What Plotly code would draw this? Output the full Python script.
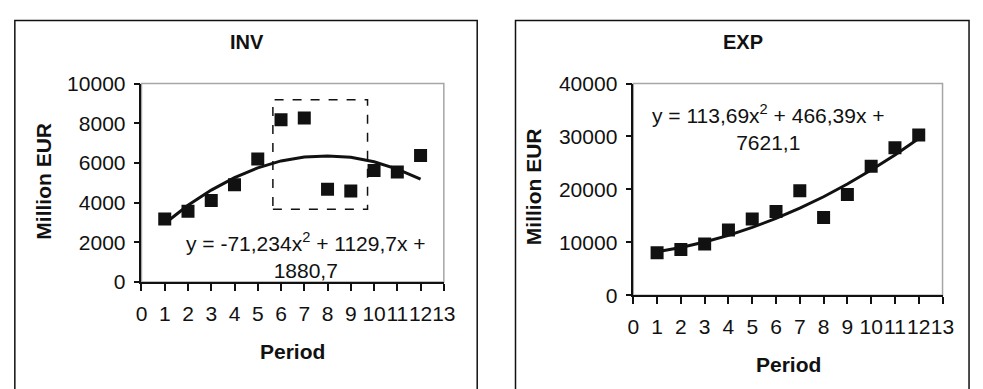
import plotly.graph_objects as go

periods = [1, 2, 3, 4, 5, 6, 7, 8, 9, 10, 11, 12]
inv_values = [3170, 3560, 4110, 4900, 6200, 8180, 8260, 4670, 4590, 5620, 5540, 6380]
inv_trend = [2950, 3870, 4630, 5260, 5750, 6100, 6300, 6350, 6280, 6060, 5690, 5180]
exp_values = [8000, 8650, 9660, 12330, 14400, 15820, 19730, 14700, 19020, 24360, 27850, 30280]
exp_trend = [8200, 9000, 10050, 11300, 12800, 14500, 16450, 18600, 21000, 23650, 26500, 29600]
x_ticks = list(range(0, 14))
inv_y_ticks = [0, 2000, 4000, 6000, 8000, 10000]
exp_y_ticks = [0, 10000, 20000, 30000, 40000]
inv_box = [5.65, 9.72, 3670, 9180]

FONT = "Liberation Sans, Arial, sans-serif"
W, H = 983, 389

fig = go.Figure()
marker = dict(symbol="square", size=13, color="#111111")
line = dict(color="#111111", width=3)

fig.add_trace(go.Scatter(x=periods, y=inv_trend, mode="lines", line=line, xaxis="x", yaxis="y", showlegend=False))
fig.add_trace(go.Scatter(x=periods, y=inv_values, mode="markers", marker=marker, xaxis="x", yaxis="y", showlegend=False))
fig.add_trace(go.Scatter(x=periods, y=exp_trend, mode="lines", line=line, xaxis="x2", yaxis="y2", showlegend=False))
fig.add_trace(go.Scatter(x=periods, y=exp_values, mode="markers", marker=marker, xaxis="x2", yaxis="y2", showlegend=False))

def px_x(p):
    return p / W

def px_y(p):
    return 1 - p / H

tickfont = dict(family=FONT, size=21, color="#111111")
common_x = dict(range=[0, 13], tickmode="array", tickvals=x_ticks, ticktext=[str(v) for v in x_ticks],
                showgrid=False, zeroline=False, showline=True, linecolor="#111111", linewidth=1.5,
                ticks="outside", ticklen=7, tickcolor="#111111", tickwidth=1.5, tickangle=0,
                ticklabelstandoff=5, tickfont=tickfont, fixedrange=True)
common_y = dict(showgrid=False, zeroline=False, showline=True, linecolor="#111111", linewidth=1.5,
                ticks="outside", ticklen=6, tickcolor="#111111", tickwidth=1.5,
                ticklabelstandoff=4, tickfont=tickfont, fixedrange=True)

L = dict(x0=138, x1=446, y0=76, y1=287)
R = dict(x0=639, x1=954, y0=76, y1=301)

fig.update_layout(
    width=W, height=H, margin=dict(l=0, r=0, t=0, b=0),
    paper_bgcolor="white", plot_bgcolor="white",
    font=dict(family=FONT, size=21, color="#111111"),
    xaxis=dict(common_x, domain=[px_x(L["x0"]), px_x(L["x1"])], anchor="y"),
    yaxis=dict(common_y, domain=[px_y(L["y1"]), px_y(L["y0"])], anchor="x", range=[0, 10000],
               tickmode="array", tickvals=inv_y_ticks, ticktext=[str(v) for v in inv_y_ticks]),
    xaxis2=dict(common_x, domain=[px_x(R["x0"]), px_x(R["x1"])], anchor="y2"),
    yaxis2=dict(common_y, domain=[px_y(R["y1"]), px_y(R["y0"])], anchor="x2", range=[0, 40000],
                tickmode="array", tickvals=exp_y_ticks, ticktext=[str(v) for v in exp_y_ticks]),
)

shapes = []
shapes.append(dict(type="rect", xref="paper", yref="paper", x0=px_x(9), x1=px_x(480), y0=-0.1, y1=px_y(9),
                   line=dict(color="#111111", width=1.5), layer="below"))
shapes.append(dict(type="rect", xref="paper", yref="paper", x0=px_x(519), x1=px_x(981), y0=-0.1, y1=px_y(9),
                   line=dict(color="#111111", width=1.5), layer="below"))
shapes.append(dict(type="rect", xref="x domain", yref="y domain", x0=0, x1=1, y0=0, y1=1,
                   line=dict(color="#a6a6a6", width=1.5), layer="below"))
shapes.append(dict(type="rect", xref="x2 domain", yref="y2 domain", x0=0, x1=1, y0=0, y1=1,
                   line=dict(color="#a6a6a6", width=1.5), layer="below"))
shapes.append(dict(type="rect", xref="x", yref="y", x0=inv_box[0], x1=inv_box[1], y0=inv_box[2], y1=inv_box[3],
                   line=dict(color="#111111", width=1.5, dash="dash"), layer="above"))
fig.update_layout(shapes=shapes)

ann = []
C = dict(xanchor="center", yanchor="middle", showarrow=False)
bold = dict(family=FONT, size=20, color="#111111")
ann.append(dict(C, text="<b>INV</b>", xref="paper", yref="paper", x=px_x(246), y=px_y(32), font=bold))
ann.append(dict(C, text="<b>EXP</b>", xref="paper", yref="paper", x=px_x(751), y=px_y(32), font=bold))
axt = dict(family=FONT, size=21, color="#111111")
ann.append(dict(C, text="<b>Period</b>", xref="paper", yref="paper", x=px_x(292), y=px_y(361), font=axt))
ann.append(dict(C, text="<b>Period</b>", xref="paper", yref="paper", x=px_x(797), y=px_y(375), font=axt))
ann.append(dict(C, text="<b>Million EUR</b>", xref="paper", yref="paper", x=px_x(38), y=px_y(180), textangle=-90,
                font=axt))
ann.append(dict(C, text="<b>Million EUR</b>", xref="paper", yref="paper", x=px_x(537), y=px_y(186), textangle=-90,
                font=axt))
eqf = dict(family=FONT, size=21, color="#111111")
ann.append(dict(C, text="y = -71,234x<sup>2</sup> + 1129,7x +<br>1880,7", xref="x", yref="y", x=7.09, y=1330,
                font=eqf, align="center"))
ann.append(dict(C, text="y = 113,69x<sup>2</sup> + 466,39x +<br>7621,1", xref="x2", yref="y2", x=5.7, y=31730,
                font=eqf, align="center"))
fig.update_layout(annotations=ann)

fig.write_html("out.html", config={"displayModeBar": False},
               post_script="document.body.style.margin='0';document.documentElement.style.overflow='hidden';")
